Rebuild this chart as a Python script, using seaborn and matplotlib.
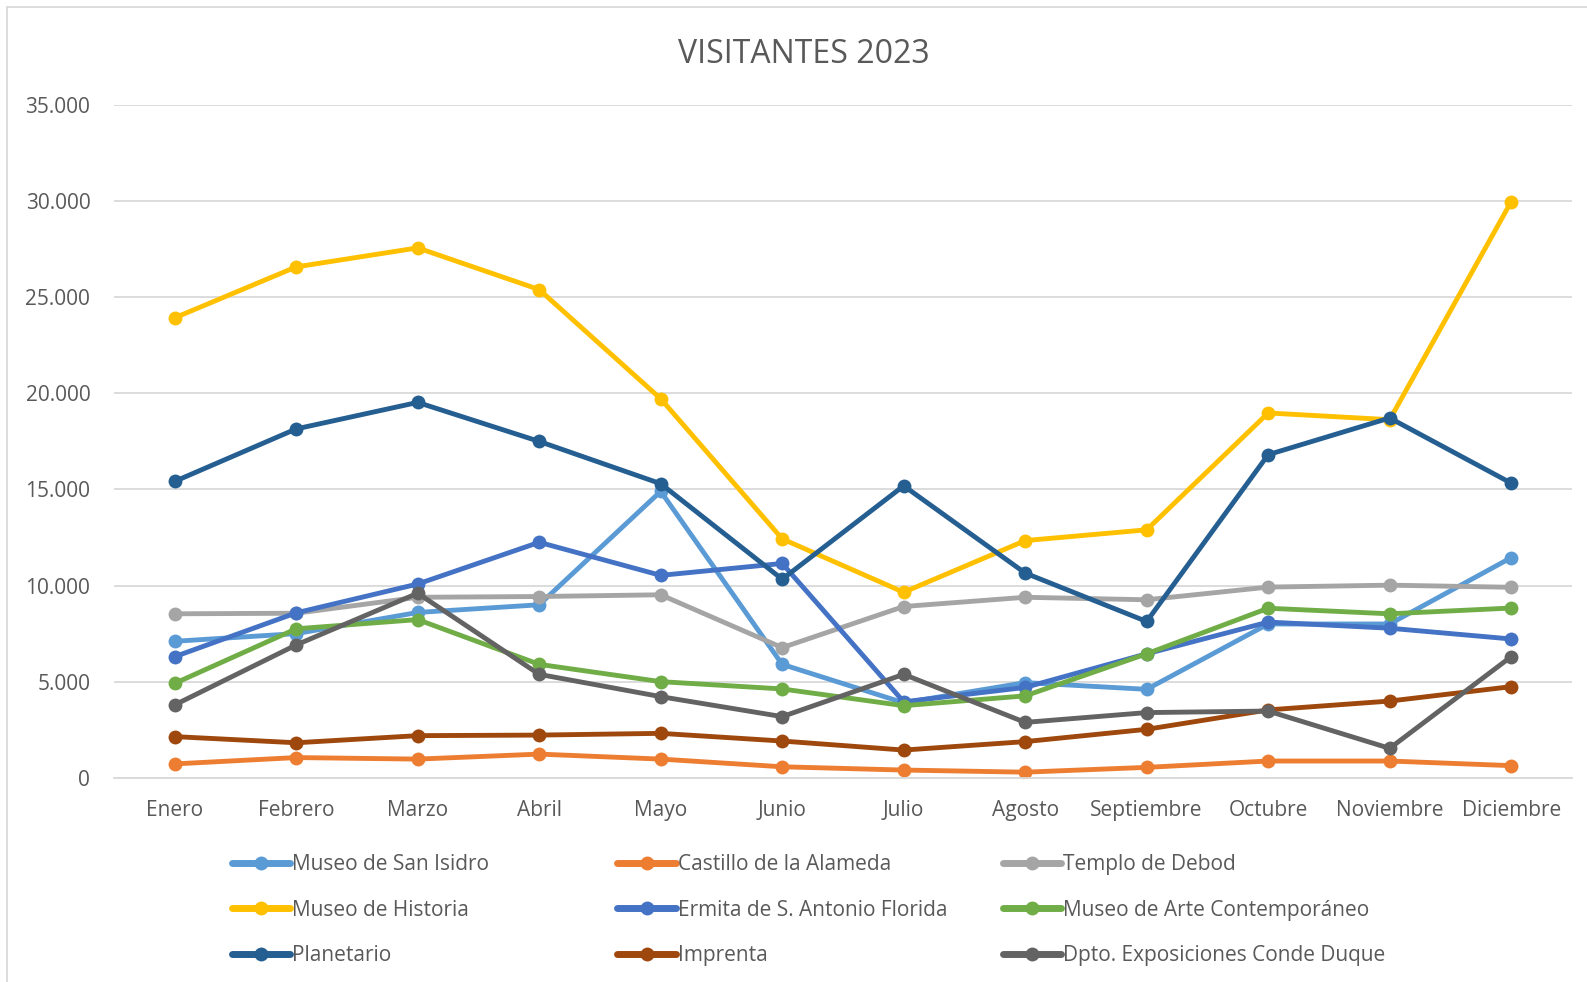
import numpy as np
import pandas as pd
import matplotlib
matplotlib.use('Agg')
import matplotlib.pyplot as plt
from matplotlib.lines import Line2D
from matplotlib.ticker import FuncFormatter
import seaborn as sns


meses = ['Enero', 'Febrero', 'Marzo', 'Abril', 'Mayo', 'Junio', 'Julio',
         'Agosto', 'Septiembre', 'Octubre', 'Noviembre', 'Diciembre']

san_isidro = [7100, 7500, 8600, 9000, 14900, 5900, 3900, 4950, 4600, 8000, 8000, 11450]
castillo = [720, 1050, 970, 1230, 970, 570, 400, 290, 540, 870, 870, 630]
templo_debod = [8530, 8560, 9390, 9430, 9520, 6770, 8910, 9390, 9260, 9920, 10020, 9910]
museo_historia = [23930, 26580, 27570, 25400, 19720, 12430, 9650, 12340, 12900, 18980, 18630, 29970]
ermita = [6300, 8580, 10080, 12250, 10530, 11150, 3950, 4700, 6450, 8100, 7780, 7220]
arte_contemporaneo = [4910, 7750, 8230, 5900, 5000, 4620, 3750, 4260, 6450, 8820, 8530, 8830]
planetario = [15420, 18150, 19530, 17500, 15300, 10330, 15190, 10650, 8130, 16810, 18720, 15330]
imprenta = [2140, 1820, 2190, 2220, 2310, 1910, 1440, 1880, 2520, 3530, 3990, 4740]
conde_duque = [3790, 6910, 9600, 5380, 4220, 3180, 5380, 2880, 3390, 3470, 1530, 6300]

nombres = ['Museo de San Isidro', 'Castillo de la Alameda', 'Templo de Debod',
           'Museo de Historia', 'Ermita de S. Antonio Florida', 'Museo de Arte Contemporáneo',
           'Planetario', 'Imprenta', 'Dpto. Exposiciones Conde Duque']
series = [san_isidro, castillo, templo_debod, museo_historia, ermita,
          arte_contemporaneo, planetario, imprenta, conde_duque]
colores = ['#5B9BD5', '#ED7D31', '#A5A5A5', '#FFC000', '#4472C4',
           '#70AD47', '#255E91', '#9E480E', '#636363']

rows = []
for nombre, vals in zip(nombres, series):
    for i, v in enumerate(vals):
        rows.append({'museo': nombre, 'mes': i, 'visitantes': v})
df = pd.DataFrame(rows)

sns.set_style('white')
plt.rcParams['font.family'] = ['Open Sans', 'DejaVu Sans']
gris_txt = '#595959'
gris_grid = '#D9D9D9'

fig = plt.figure(figsize=(15.87, 9.82), dpi=100)
ax = fig.add_axes([0.0718, 0.208, 0.9187, 0.685])

sns.lineplot(data=df, x='mes', y='visitantes', hue='museo', hue_order=nombres,
             palette=colores, marker='o', markersize=10, markeredgewidth=0,
             linewidth=3.5, sort=False, legend=False, ax=ax)

ax.set_xlim(-0.5, 11.5)
ax.set_ylim(0, 35000)
ax.set_xticks(range(12))
ax.set_xticklabels(meses)
ax.set_yticks(range(0, 35001, 5000))
ax.yaxis.set_major_formatter(FuncFormatter(lambda v, p: f'{int(v):,}'.replace(',', '.')))
ax.set_xlabel('')
ax.set_ylabel('')
ax.grid(axis='y', color=gris_grid, linewidth=1.3)
ax.set_axisbelow(True)
for s in ['top', 'right', 'left']:
    ax.spines[s].set_visible(False)
ax.spines['bottom'].set_color(gris_grid)
ax.spines['bottom'].set_linewidth(1.3)
ax.tick_params(axis='both', length=0, labelsize=15, colors=gris_txt)
ax.tick_params(axis='y', pad=17)
ax.tick_params(axis='x', pad=16)

fig.text(0.5065, 0.945, 'VISITANTES 2023', ha='center', va='center', fontsize=23, color=gris_txt)

# tres columnas de leyenda, como en Excel
col_x = [0.146, 0.389, 0.632]
for c in range(3):
    handles = []
    for k in range(3):
        idx = k * 3 + c
        handles.append(Line2D([], [], color=colores[idx], linewidth=5, marker='o',
                              markersize=10, markeredgewidth=0, label=nombres[idx]))
    fig.legend(handles=handles, loc='upper left', bbox_to_anchor=(col_x[c], 0.130),
               frameon=False, fontsize=15, handlelength=2.8, handletextpad=0.1,
               borderpad=0, borderaxespad=0, labelspacing=1.17, numpoints=1,
               labelcolor=gris_txt)

# borde del area del grafico
fig.add_artist(Line2D([7 / 1587, 7 / 1587], [0, 1 - 7 / 982], transform=fig.transFigure,
                      color=gris_grid, linewidth=1.3))
fig.add_artist(Line2D([7 / 1587, 1], [1 - 7 / 982, 1 - 7 / 982], transform=fig.transFigure,
                      color=gris_grid, linewidth=1.3))

fig.savefig('out.png', dpi=100)
